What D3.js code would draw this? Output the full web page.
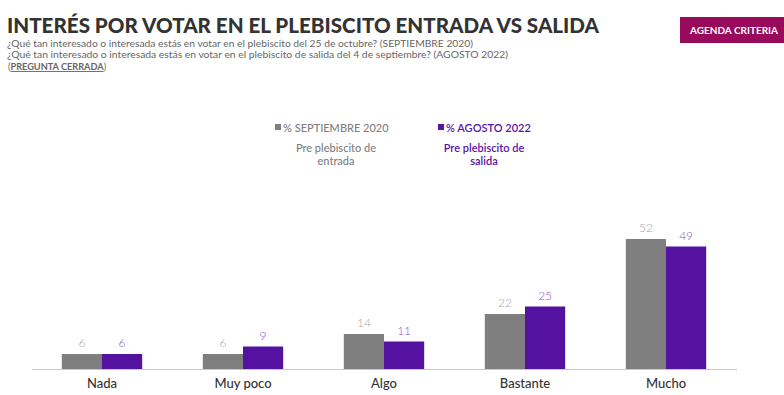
<!DOCTYPE html>
<html>
<head>
<meta charset="utf-8">
<script src="https://cdn.jsdelivr.net/npm/d3@7"></script>
<style>
  body { margin: 0; background: #fff; }
  svg { display: block; font-family: Lato, "Open Sans", sans-serif; }
</style>
</head>
<body>
<svg width="784" height="395"></svg>
<script>
// data
let categories = ["Nada", "Muy poco", "Algo", "Bastante", "Mucho"];
let sept2020 = [6, 6, 14, 22, 52];
let ago2022 = [6, 9, 11, 25, 49];
let seriesNames = ["% SEPTIEMBRE 2020", "% AGOSTO 2022"];
let seriesNotes = [["Pre plebiscito de", "entrada"], ["Pre plebiscito de", "salida"]];
let subtitleLines = [
  "¿Qué tan interesado o interesada estás en votar en el plebiscito del 25 de octubre? (SEPTIEMBRE 2020)",
  "¿Qué tan interesado o interesada estás en votar en el plebiscito de salida del 4 de septiembre? (AGOSTO 2022)"
];
let subtitleWidths = [466, 501];

let colors = ["#7f7f7f", "#5511a0"];
let labelColors = ["#a6a6a6", "#8a4fd0"];
let legendColors = ["#7f7f7f", "#5a14a3"];

let svg = d3.select("svg");
let baseY = 369;

// title
svg.append("text")
  .attr("x", 7).attr("y", 33)
  .attr("font-size", 21).attr("font-weight", 900)
  .attr("fill", "#333")
  .attr("textLength", 592).attr("lengthAdjust", "spacingAndGlyphs")
  .text("INTERÉS POR VOTAR EN EL PLEBISCITO ENTRADA VS SALIDA");

subtitleLines.forEach((s, i) => {
  svg.append("text")
    .attr("x", 7).attr("y", 47 + i * 11)
    .attr("font-size", 10).attr("fill", "#666")
    .attr("textLength", subtitleWidths[i]).attr("lengthAdjust", "spacingAndGlyphs")
    .text(s);
});
let pc = svg.append("text")
  .attr("x", 8).attr("y", 70)
  .attr("font-size", 9.2).attr("fill", "#666");
pc.append("tspan").text("(");
pc.append("tspan").attr("font-weight", 700).attr("text-decoration", "underline").text("PREGUNTA CERRADA");
pc.append("tspan").text(")");

// badge
svg.append("rect")
  .attr("x", 680).attr("y", 17).attr("width", 104).attr("height", 26)
  .attr("fill", "#990a5c");
svg.append("text")
  .attr("x", 734).attr("y", 34).attr("text-anchor", "middle")
  .attr("font-size", 10).attr("font-weight", 700).attr("fill", "#fff")
  .text("AGENDA CRITERIA");

// legend
let legendX = [275, 438];
let noteX = [336, 484];
seriesNames.forEach((name, i) => {
  svg.append("rect")
    .attr("x", legendX[i]).attr("y", 124).attr("width", 6).attr("height", 6)
    .attr("fill", legendColors[i]);
  svg.append("text")
    .attr("x", legendX[i] + 8).attr("y", 132)
    .attr("font-size", 11).attr("font-weight", i === 1 ? 600 : 500)
    .attr("fill", legendColors[i])
    .text(name);
  seriesNotes[i].forEach((t, j) => {
    svg.append("text")
      .attr("x", noteX[i]).attr("y", 152 + j * 13)
      .attr("text-anchor", "middle")
      .attr("font-size", 11).attr("font-weight", i === 1 ? 600 : 500)
      .attr("fill", i === 1 ? "#5a14a3" : "#808080")
      .text(t);
  });
});

// scales
let x = d3.scaleBand()
  .domain(categories)
  .range([31.5, 736.5])
  .paddingInner(0.43)
  .paddingOuter(0.215);
let x1 = d3.scaleBand()
  .domain([0, 1])
  .range([0, x.bandwidth()]);
let y = d3.scaleLinear()
  .domain([0, 52])
  .range([baseY, baseY - 130]);

let rows = categories.map((c, i) => ({ cat: c, vals: [sept2020[i], ago2022[i]] }));

let groups = svg.selectAll(".grp")
  .data(rows)
  .enter().append("g")
  .attr("class", "grp")
  .attr("transform", d => "translate(" + x(d.cat) + ",0)");

groups.selectAll("rect")
  .data(d => d.vals.map((v, k) => ({ v: v, k: k })))
  .enter().append("rect")
  .attr("x", d => x1(d.k))
  .attr("y", d => y(d.v))
  .attr("width", x1.bandwidth())
  .attr("height", d => baseY - y(d.v))
  .attr("fill", d => colors[d.k]);

groups.selectAll(".val")
  .data(d => d.vals.map((v, k) => ({ v: v, k: k })))
  .enter().append("text")
  .attr("class", "val")
  .attr("x", d => x1(d.k) + x1.bandwidth() / 2)
  .attr("y", d => y(d.v) - 7)
  .attr("text-anchor", "middle")
  .attr("font-size", 12).attr("font-weight", 300)
  .attr("fill", d => labelColors[d.k])
  .text(d => d.v);

// axis
let axis = svg.append("g")
  .attr("transform", "translate(0," + baseY + ")")
  .call(d3.axisBottom(x).tickSize(0).tickPadding(10));
axis.select(".domain").attr("stroke", "#c8c8c8").attr("stroke-width", 1.2);
axis.selectAll("text")
  .attr("font-size", 13).attr("font-weight", 500)
  .attr("font-family", "Lato, sans-serif")
  .attr("fill", "#333");
</script>
</body>
</html>
